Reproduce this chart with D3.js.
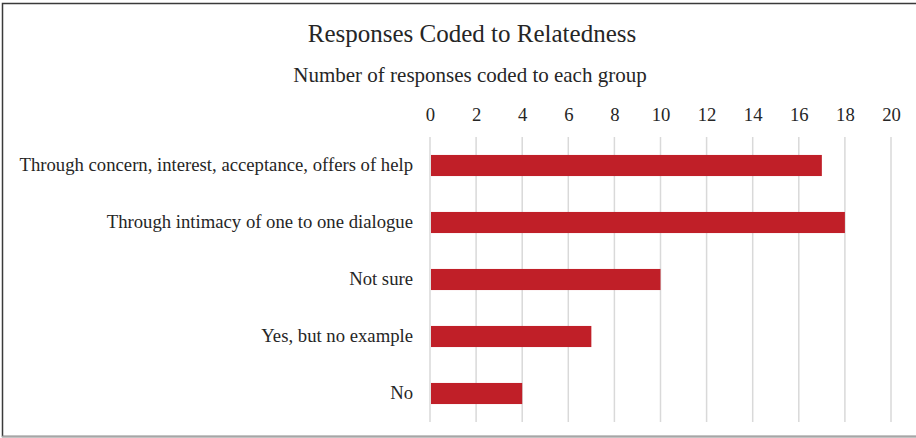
<!DOCTYPE html>
<html>
<head>
<meta charset="utf-8">
<script src="https://cdn.jsdelivr.net/npm/d3@7"></script>
<style>
  html, body { margin: 0; padding: 0; background: #fff; }
  svg { display: block; }
  text { font-family: "Liberation Serif", "Times New Roman", serif; fill: #262626; }
</style>
</head>
<body>
<svg id="chart" width="916" height="438"></svg>
<script>
// Response groups and their counts
const categories = [
  "Through concern, interest, acceptance, offers of help",
  "Through intimacy of one to one dialogue",
  "Not sure",
  "Yes, but no example",
  "No"
];
const counts = [17, 18, 10, 7, 4];
const tickValues = [0, 2, 4, 6, 8, 10, 12, 14, 16, 18, 20];

const titleText = "Responses Coded to Relatedness";
const subtitleText = "Number of responses coded to each group";

const W = 916, H = 438;
const plot = { left: 430, right: 891, top: 137, bottom: 422 };

const svg = d3.select("#chart");

// outer frame
svg.append("rect")
  .attr("x", 2.5).attr("y", 3.5)
  .attr("width", W + 10).attr("height", 433)
  .attr("fill", "none")
  .attr("stroke", "#3a3a3a")
  .attr("stroke-width", 1.5);
svg.append("line")
  .attr("x1", 2).attr("x2", W).attr("y1", 436.5).attr("y2", 436.5)
  .attr("stroke", "#a6a6a6").attr("stroke-width", 1.5);

const x = d3.scaleLinear().domain([0, 20]).range([plot.left, plot.right]);
const y = d3.scaleBand().domain(categories).range([plot.top, plot.bottom]).paddingInner(0.63).paddingOuter(0.315);

// vertical gridlines
svg.append("g").selectAll("line").data(tickValues).join("line")
  .attr("x1", d => x(d)).attr("x2", d => x(d))
  .attr("y1", plot.top).attr("y2", plot.bottom)
  .attr("stroke", "#d9d9d9").attr("stroke-width", 1.5);

// top value axis
const xAxis = d3.axisTop(x).tickValues(tickValues).tickSize(0).tickPadding(0);
const gx = svg.append("g").attr("transform", `translate(0, 121)`).call(xAxis);
gx.select(".domain").remove();
gx.selectAll("text")
  .attr("font-size", 18.7)
  .attr("fill", "#262626")
  .attr("dy", 0);

// category axis
const yAxis = d3.axisLeft(y).tickSize(0).tickPadding(17);
const gy = svg.append("g").attr("transform", `translate(${plot.left}, 0)`).call(yAxis);
gy.select(".domain").remove();
gy.selectAll("text")
  .attr("font-size", 18.7)
  .attr("fill", "#262626");

// bars
svg.append("g").selectAll("rect").data(categories).join("rect")
  .attr("x", x(0) + 1)
  .attr("y", d => y(d))
  .attr("width", (d, i) => x(counts[i]) - x(0) - 1)
  .attr("height", y.bandwidth())
  .attr("fill", "#c01f28");

// titles
svg.append("text")
  .attr("x", 472).attr("y", 41.5)
  .attr("text-anchor", "middle")
  .attr("font-size", 25)
  .text(titleText);
svg.append("text")
  .attr("x", 470).attr("y", 81.5)
  .attr("text-anchor", "middle")
  .attr("font-size", 21)
  .text(subtitleText);
</script>
</body>
</html>
